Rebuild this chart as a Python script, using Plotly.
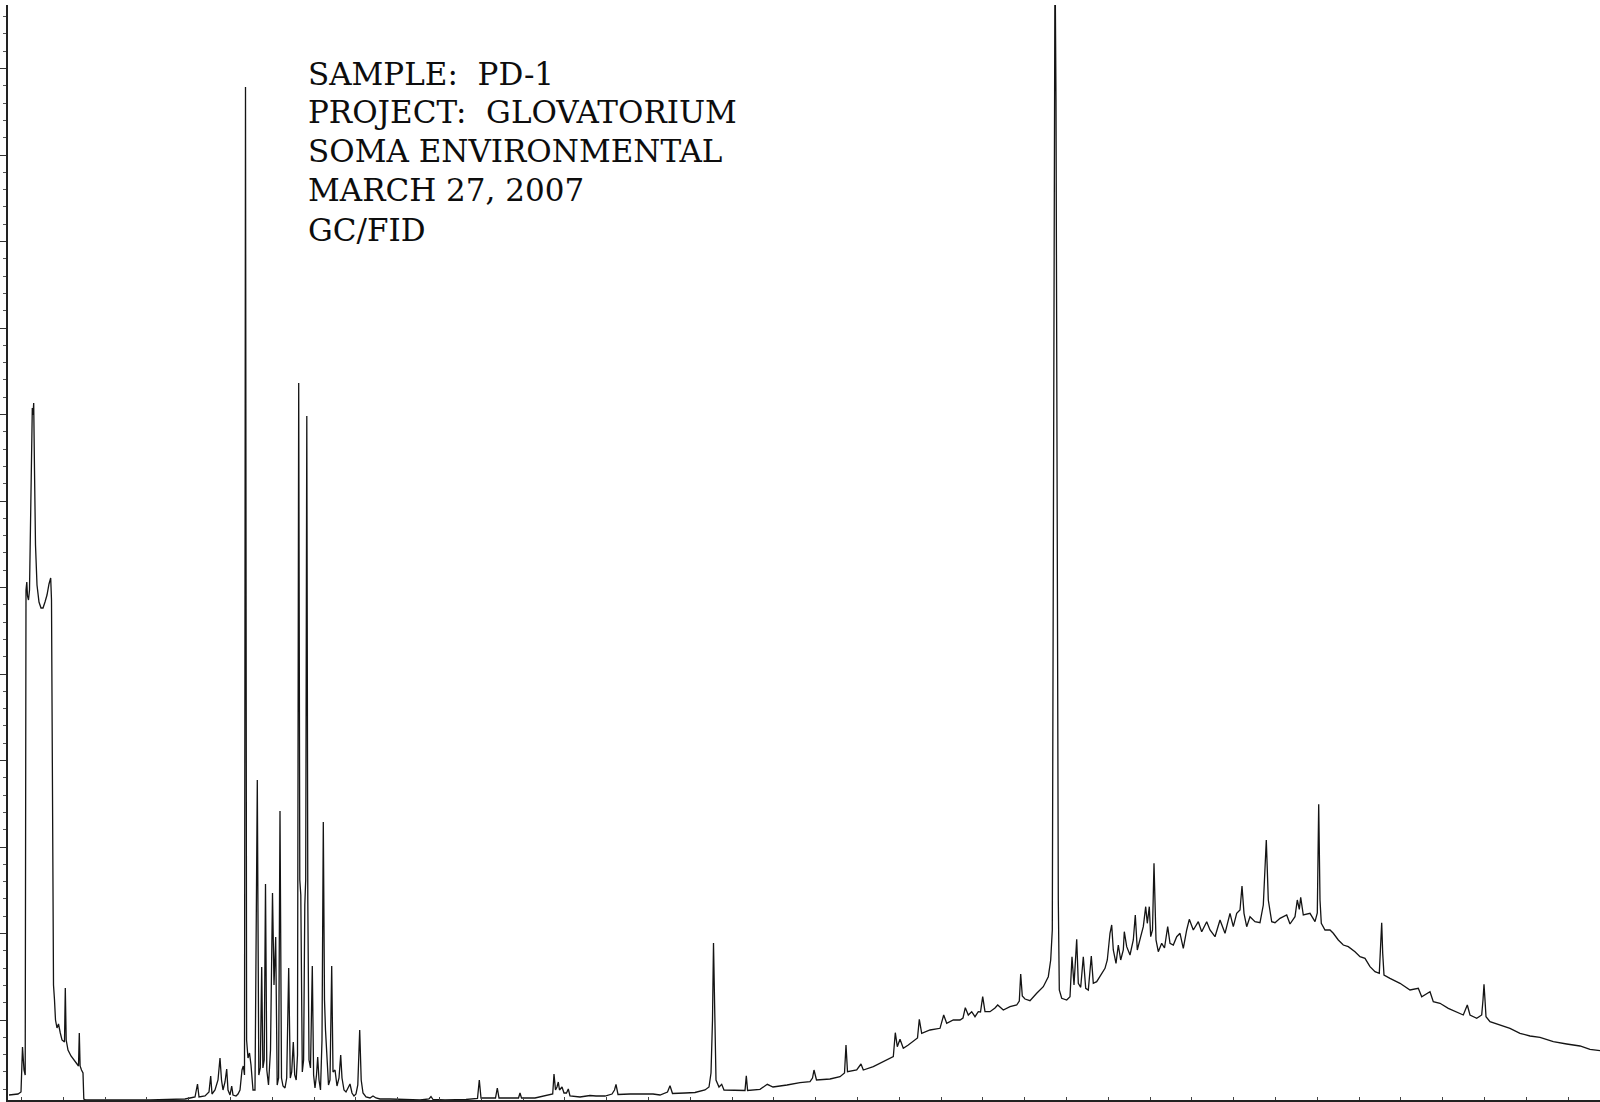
import plotly.graph_objects as go

# GC/FID chromatogram, sample PD-1 — retention time (min) vs detector response
# Solvent front and early light-end peaks
solvent_time = [0.36, 0.72, 0.84, 0.90, 0.96, 1.008, 1.04, 1.072, 1.10, 1.14, 1.18, 1.22, 1.26, 1.292,
                1.32, 1.348, 1.38, 1.42, 1.48, 1.56, 1.64, 1.72, 1.80, 1.88, 1.96, 2.028, 2.06, 2.088,
                2.112, 2.14, 2.18, 2.22, 2.28, 2.34, 2.412, 2.48, 2.58, 2.612, 2.648, 2.72, 2.84, 2.96,
                3.08, 3.14, 3.172, 3.204, 3.26, 3.32, 3.352, 3.44, 6.0, 7.4]
solvent_signal = [0.5, 0.6, 0.8, 5.3, 3.0, 2.5, 51.0, 51.8, 50.4, 50.0, 51.0, 58.0, 66.0, 69.2,
                  68.5, 69.7, 63.0, 55.5, 51.5, 49.8, 49.2, 49.2, 49.8, 50.5, 51.6, 52.2, 50.0, 34.0,
                  15.0, 11.5, 10.0, 8.0, 7.2, 7.6, 6.7, 6.0, 5.8, 11.2, 6.0, 5.0, 4.4, 4.0,
                  3.6, 3.4, 6.7, 3.4, 3.0, 2.7, 0.1, 0.0, 0.0, 0.1]

# Resolved aromatic / light hydrocarbon cluster
cluster_time = [7.6, 7.8, 7.9, 7.96, 8.2, 8.36, 8.428, 8.48, 8.6, 8.72, 8.8, 8.86, 8.92, 9.0, 9.068,
                9.12, 9.2, 9.268, 9.32, 9.44, 9.52, 9.6, 9.68, 9.732, 9.78, 9.82, 9.864, 9.92, 9.98,
                10.04, 10.12, 10.2, 10.292, 10.352, 10.412, 10.468, 10.516, 10.568, 10.62, 10.672,
                10.74, 10.82, 10.90, 10.96, 11.028, 11.088, 11.144, 11.2, 11.26, 11.32, 11.4, 11.468,
                11.548, 11.612, 11.668, 11.732, 11.788, 11.848, 11.9, 11.948, 11.992, 12.032, 12.092,
                12.144, 12.192, 12.228, 12.272, 12.312, 12.36, 12.42, 12.492, 12.544, 12.6, 12.66,
                12.708, 12.76, 12.82, 12.88, 12.932, 12.98, 13.02, 13.08, 13.14, 13.2, 13.268, 13.32,
                13.4, 13.48, 13.56, 13.628, 13.68, 13.76, 13.84, 13.92, 14.0, 14.08, 14.16, 14.24,
                14.312, 14.388, 14.448, 14.52, 14.64, 14.8, 14.92, 15.04, 15.2]
cluster_signal = [0.2, 0.3, 1.6, 0.3, 0.4, 0.8, 2.4, 0.6, 1.0, 2.0, 4.2, 2.0, 1.0, 1.8, 3.1,
                  1.0, 0.5, 1.4, 0.5, 0.4, 0.6, 1.0, 3.0, 3.4, 2.5, 101.3, 6.0, 4.2, 4.7,
                  3.5, 1.0, 1.0, 32.0, 2.5, 3.2, 13.3, 3.2, 4.0, 21.6, 3.0,
                  1.5, 5.0, 20.7, 11.5, 16.3, 1.5, 2.2, 28.9, 2.2, 1.4, 1.2, 2.2,
                  13.2, 2.2, 2.8, 5.8, 2.5, 2.0, 4.5, 71.7, 22.0, 20.5, 2.8,
                  4.0, 19.5, 22.0, 68.4, 20.0, 4.0, 3.2, 13.4, 2.5, 1.2, 2.5,
                  4.3, 2.0, 1.0, 6.0, 27.8, 10.0, 7.0, 3.5, 1.5, 2.0, 13.4, 2.8,
                  3.0, 1.4, 2.2, 4.5, 2.2, 1.0, 0.8, 1.2, 1.6, 0.7, 0.4, 0.6,
                  1.5, 7.0, 2.0, 0.7, 0.3, 0.2, 0.4, 0.2, 0.1]

# Mid-range baseline with isolated peaks
mid_time = [15.6, 16.8, 17.16, 17.24, 17.32, 17.8, 18.64, 19.1, 19.172, 19.24, 19.82, 19.892, 19.96,
            20.74, 20.8, 20.86, 21.4, 21.72, 22.0, 22.108, 22.16, 22.22, 22.28, 22.332, 22.38, 22.48,
            22.56, 22.66, 22.732, 22.8, 23.2, 23.6, 23.84, 24.2, 24.48, 24.58, 24.64, 24.72, 25.2,
            26.12, 26.4, 26.7, 26.8, 26.9, 27.4, 27.8, 28.2, 28.36, 28.44, 28.5, 28.54, 28.58, 28.64,
            28.76, 28.868, 28.96, 29.8, 29.852, 29.904, 30.4, 30.692, 30.8, 30.92, 31.48, 32.0, 32.4,
            32.5, 32.56, 32.66, 33.2]
mid_signal = [0.1, 0.0, 0.1, 0.35, 0.05, 0.0, 0.05, 0.15, 2.0, 0.2, 0.2, 1.2, 0.2,
              0.2, 0.7, 0.2, 0.2, 0.35, 0.5, 0.6, 2.6, 1.0, 1.3, 1.8, 1.0, 1.3,
              0.7, 0.7, 1.1, 0.4, 0.3, 0.45, 0.4, 0.4, 0.6, 1.0, 1.57, 0.55, 0.6,
              0.6, 0.5, 0.8, 1.43, 0.65, 0.7, 0.75, 1.0, 1.3, 2.7, 8.0, 15.7, 9.0, 2.0,
              1.3, 1.57, 1.0, 0.95, 2.43, 0.95, 1.07, 1.57, 1.43, 1.3, 1.5, 1.73, 1.83,
              2.2, 3.0, 2.0, 2.1]

# Rising unresolved complex mixture and the dominant late peak
rise_time = [33.6, 33.78, 33.84, 33.9, 34.268, 34.44, 34.532, 34.932, 35.468, 35.732, 35.812, 35.892,
             36.0, 36.132, 36.332, 36.6, 36.7, 36.772, 36.868, 37.2, 37.6, 37.748, 37.868, 38.132,
             38.4, 38.52, 38.612, 38.732, 38.868, 39.0, 39.132, 39.22, 39.308, 39.4, 39.6, 39.8,
             39.908, 40.132, 40.4, 40.668, 40.772, 40.828, 40.892, 41.0, 41.2, 41.468, 41.732,
             41.932, 42.028, 42.092, 42.132, 42.168, 42.2, 42.24, 42.288, 42.332, 42.372, 42.468,
             42.668]
rise_signal = [2.33, 2.7, 5.5, 2.83, 3.0, 3.6, 3.0, 3.33, 4.0, 4.33, 6.73, 5.33,
               6.07, 5.17, 5.5, 6.0, 6.2, 8.07, 6.67, 7.0, 7.17, 8.5, 7.67, 8.0,
               8.0, 8.2, 9.23, 8.5, 8.83, 8.33, 8.83, 8.8, 10.33, 8.83, 8.83, 9.2,
               9.5, 9.0, 9.33, 9.5, 9.9, 12.6, 10.4, 10.1, 9.93, 10.67, 11.33,
               12.33, 14.0, 17.0, 50.0, 100.0, 115.0, 100.0, 50.0, 20.0, 11.0, 10.17,
               10.0]

# Heavy-end hump and its tail
hump_time = [42.8, 42.88, 42.96, 43.068, 43.132, 43.228, 43.332, 43.428, 43.532, 43.652, 43.732,
             43.868, 44.0, 44.108, 44.2, 44.292, 44.4, 44.468, 44.532, 44.64, 44.732, 44.828,
             44.932, 44.972, 45.068, 45.2, 45.332, 45.412, 45.492, 45.628, 45.732, 45.828, 45.892,
             45.972, 46.028, 46.1, 46.16, 46.24, 46.332, 46.468, 46.58, 46.708, 46.8, 46.932,
             47.068, 47.2, 47.332, 47.468, 47.572, 47.732, 47.932, 48.068, 48.268, 48.4, 48.6,
             48.8, 49.0, 49.2, 49.332, 49.468, 49.6, 49.68, 49.76, 49.868, 50.0, 50.2, 50.4,
             50.532, 50.652, 50.732, 50.868, 51.0, 51.2, 51.468, 51.6, 51.8, 51.892, 51.972,
             52.028, 52.132, 52.4, 52.6, 52.692, 52.748, 52.8, 52.852, 53.0, 53.2, 53.332, 53.532,
             53.732, 53.932, 54.2, 54.4, 54.6, 54.8, 55.0, 55.172, 55.228, 55.268, 55.308, 55.36,
             55.6, 56.0, 56.4, 56.732, 56.868, 57.2, 57.332, 57.6, 57.932, 58.268, 58.532, 58.692,
             58.8, 59.068, 59.268, 59.32, 59.36, 59.4, 59.44, 59.6, 60.0, 60.4, 60.8, 61.2, 61.6,
             62.132, 62.668, 63.2, 63.6, 64.0]
hump_signal = [10.33, 14.33, 11.5, 16.07, 11.67, 11.27, 14.33, 11.17, 11.0, 14.4, 11.67,
               11.83, 12.33, 12.83, 13.17, 14.0, 16.67, 17.5, 15.0, 13.67, 15.5, 14.0,
               15.0, 16.83, 15.33, 14.5, 16.0, 18.5, 15.0, 16.33, 17.33, 19.33, 17.67,
               19.33, 16.33, 17.0, 23.67, 16.0, 14.83, 15.67, 15.2, 17.33, 15.67, 15.5,
               16.33, 16.67, 15.17, 17.0, 18.07, 17.0, 17.83, 16.83, 17.83, 17.0, 16.33,
               18.0, 16.67, 18.67, 17.33, 18.67, 19.0, 21.4, 18.67, 17.33, 18.33, 17.83, 17.73,
               19.5, 26.0, 20.0, 17.83, 17.73, 18.17, 18.5, 17.6, 18.33, 20.0, 19.07,
               20.27, 18.5, 18.67, 17.83, 18.7, 29.57, 20.0, 17.67, 17.0, 17.0, 16.67, 16.0,
               15.5, 15.33, 14.83, 14.33, 14.17, 13.33, 12.83, 12.67, 15.33, 17.73, 14.67, 12.5,
               12.17, 11.67, 11.0, 11.17, 10.33, 10.83, 9.83, 9.67, 9.17, 8.83, 8.5, 9.5,
               8.5, 8.17, 8.5, 10.0, 11.57, 10.0, 8.33, 7.83, 7.5, 7.17, 6.67, 6.4, 6.27,
               5.83, 5.6, 5.4, 5.07, 4.93]

label_lines = ["SAMPLE:  PD-1", "PROJECT:  GLOVATORIUM", "SOMA ENVIRONMENTAL",
               "MARCH 27, 2007", "GC/FID"]
label_rows = [0.9374, 0.9021, 0.8667, 0.8312, 0.7949]

time = solvent_time + cluster_time + mid_time + rise_time + hump_time
signal = solvent_signal + cluster_signal + mid_signal + rise_signal + hump_signal

fig = go.Figure()
fig.add_trace(go.Scatter(
    x=time, y=signal, mode="lines",
    line=dict(color="#141414", width=1.3),
    hoverinfo="skip", showlegend=False,
))

# Sample header block, one line per annotation
for line, row in zip(label_lines, label_rows):
    fig.add_annotation(
        xref="paper", yref="paper", x=0.1872, y=row,
        xanchor="left", yanchor="middle", align="left",
        text=line, showarrow=False,
        font=dict(family="DejaVu Serif", size=31, color="#0d0d0d"),
    )

fig.update_layout(
    width=1600, height=1102,
    margin=dict(l=8, r=0, t=5, b=2),
    paper_bgcolor="white", plot_bgcolor="white",
    xaxis=dict(range=[0.32, 64], showline=True, linecolor="#222", linewidth=1.5,
               ticks="inside", ticklen=3, tickcolor="#444", tick0=0.86, dtick=1.672,
               showticklabels=False, showgrid=False, zeroline=False),
    yaxis=dict(range=[0, 109.5], showline=True, linecolor="#222", linewidth=1.5,
               ticks="outside", ticklen=6, tickcolor="#333", tick0=8.0, dtick=8.65,
               minor=dict(ticks="outside", ticklen=3, tickcolor="#555", tick0=8.0, dtick=1.73),
               showticklabels=False, showgrid=False, zeroline=False),
)

fig.write_html("out.html", config={"displayModeBar": False})
